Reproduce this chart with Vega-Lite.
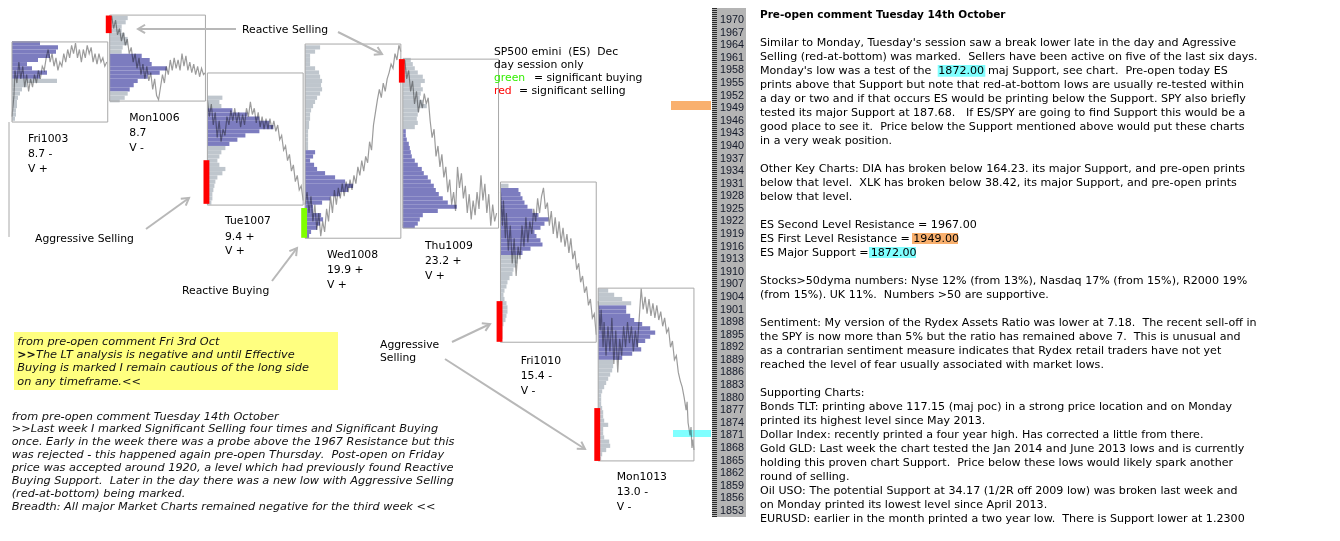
{
"$schema":"https://vega.github.io/schema/vega-lite/v6.json",
"width":1340,"height":541,
"autosize":{"type":"fit","contains":"padding"},
"padding":0,
"background":"white",
"config":{"view":{"stroke":null}},
"resolve":{"scale":{"color":"independent"}},
"datasets":{
"days":[{"d":0,"hi":1964.8,"lo":1945.7},{"d":1,"hi":1971.2,"lo":1950.7},{"d":2,"hi":1957.4,"lo":1925.9},{"d":3,"hi":1964.3,"lo":1918.0},{"d":4,"hi":1960.7,"lo":1920.4},{"d":5,"hi":1931.4,"lo":1893.2},{"d":6,"hi":1906.1,"lo":1864.9}],
"marks":[{"d":1,"hi":1971.1,"lo":1966.9,"k":"s"},{"d":2,"hi":1936.6,"lo":1926.2,"k":"s"},{"d":3,"hi":1925.2,"lo":1918.1,"k":"b"},{"d":4,"hi":1960.7,"lo":1955.1,"k":"s"},{"d":5,"hi":1903.0,"lo":1893.3,"k":"s"},{"d":6,"hi":1877.5,"lo":1864.9,"k":"s"}],
"rects":[{"x":0.0205,"x2":3.3367,"y":1881.81,"y2":1895.64,"k":"y"},{"x":9.4749,"x2":9.9621,"y":1956.51,"y2":1959.3,"k":"c"},{"x":9.2119,"x2":9.6827,"y":1916.62,"y2":1919.24,"k":"o"},{"x":8.7717,"x2":9.2528,"y":1913.28,"y2":1915.91,"k":"c"},{"x":7.1648,"x2":7.5128,"y":1851.53,"y2":1972.89,"k":"g"},{"x":6.7451,"x2":7.1546,"y":1948.57,"y2":1950.72,"k":"o"},{"x":6.7656,"x2":7.1546,"y":1870.6,"y2":1872.27,"k":"c"}],
"lines":[{"x":-0.0307,"y":1918.3,"y2":1945.7,"k":"edge"},{"x":7.1904,"y":1851.53,"y2":1972.89,"k":"comb"}],
"prof":[
{"d":0,"p":1964.5,"v":28,"z":"va"},{"d":0,"p":1963.5,"v":46,"z":"va"},{"d":0,"p":1962.5,"v":44,"z":"va"},{"d":0,"p":1961.5,"v":38,"z":"va"},{"d":0,"p":1960.5,"v":26,"z":"va"},{"d":0,"p":1959.5,"v":15,"z":"va"},{"d":0,"p":1958.5,"v":20,"z":"va"},{"d":0,"p":1957.5,"v":35,"z":"va"},{"d":0,"p":1956.5,"v":28,"z":"va"},{"d":0,"p":1955.5,"v":45,"z":"o"},{"d":0,"p":1954.5,"v":15,"z":"o"},{"d":0,"p":1953.5,"v":10,"z":"o"},{"d":0,"p":1952.5,"v":8,"z":"o"},{"d":0,"p":1951.5,"v":6,"z":"o"},{"d":0,"p":1950.5,"v":5,"z":"o"},{"d":0,"p":1949.5,"v":5,"z":"o"},{"d":0,"p":1948.5,"v":4,"z":"o"},{"d":0,"p":1947.5,"v":4,"z":"o"},{"d":0,"p":1946.5,"v":3,"z":"o"},
{"d":1,"p":1970.5,"v":18,"z":"o"},{"d":1,"p":1969.5,"v":16,"z":"o"},{"d":1,"p":1968.5,"v":12,"z":"o"},{"d":1,"p":1967.5,"v":12,"z":"o"},{"d":1,"p":1966.5,"v":15,"z":"o"},{"d":1,"p":1965.5,"v":18,"z":"o"},{"d":1,"p":1964.5,"v":18,"z":"o"},{"d":1,"p":1963.5,"v":13,"z":"o"},{"d":1,"p":1962.5,"v":12,"z":"o"},{"d":1,"p":1961.5,"v":32,"z":"va"},{"d":1,"p":1960.5,"v":40,"z":"va"},{"d":1,"p":1959.5,"v":42,"z":"va"},{"d":1,"p":1958.5,"v":57,"z":"va"},{"d":1,"p":1957.5,"v":50,"z":"va"},{"d":1,"p":1956.5,"v":38,"z":"va"},{"d":1,"p":1955.5,"v":28,"z":"va"},{"d":1,"p":1954.5,"v":24,"z":"va"},{"d":1,"p":1953.5,"v":20,"z":"va"},{"d":1,"p":1952.5,"v":18,"z":"o"},{"d":1,"p":1951.5,"v":15,"z":"o"},{"d":1,"p":1950.9,"v":10,"z":"o"},
{"d":2,"p":1951.5,"v":15,"z":"o"},{"d":2,"p":1950.5,"v":12,"z":"o"},{"d":2,"p":1949.5,"v":14,"z":"o"},{"d":2,"p":1948.5,"v":25,"z":"va"},{"d":2,"p":1947.5,"v":40,"z":"va"},{"d":2,"p":1946.5,"v":52,"z":"va"},{"d":2,"p":1945.5,"v":62,"z":"va"},{"d":2,"p":1944.5,"v":66,"z":"va"},{"d":2,"p":1943.5,"v":52,"z":"va"},{"d":2,"p":1942.5,"v":38,"z":"va"},{"d":2,"p":1941.5,"v":30,"z":"va"},{"d":2,"p":1940.5,"v":22,"z":"va"},{"d":2,"p":1939.5,"v":18,"z":"o"},{"d":2,"p":1938.5,"v":14,"z":"o"},{"d":2,"p":1937.5,"v":12,"z":"o"},{"d":2,"p":1936.5,"v":10,"z":"o"},{"d":2,"p":1935.5,"v":12,"z":"o"},{"d":2,"p":1934.5,"v":18,"z":"o"},{"d":2,"p":1933.5,"v":15,"z":"o"},{"d":2,"p":1932.5,"v":10,"z":"o"},{"d":2,"p":1931.5,"v":8,"z":"o"},{"d":2,"p":1930.5,"v":7,"z":"o"},{"d":2,"p":1929.5,"v":6,"z":"o"},{"d":2,"p":1928.5,"v":5,"z":"o"},{"d":2,"p":1927.5,"v":5,"z":"o"},{"d":2,"p":1926.5,"v":4,"z":"o"},
{"d":3,"p":1963.5,"v":15,"z":"o"},{"d":3,"p":1962.5,"v":10,"z":"o"},{"d":3,"p":1961.5,"v":5,"z":"o"},{"d":3,"p":1960.5,"v":5,"z":"o"},{"d":3,"p":1959.5,"v":5,"z":"o"},{"d":3,"p":1958.5,"v":10,"z":"o"},{"d":3,"p":1957.5,"v":14,"z":"o"},{"d":3,"p":1956.5,"v":15,"z":"o"},{"d":3,"p":1955.5,"v":17,"z":"o"},{"d":3,"p":1954.5,"v":16,"z":"o"},{"d":3,"p":1953.5,"v":17,"z":"o"},{"d":3,"p":1952.5,"v":15,"z":"o"},{"d":3,"p":1951.5,"v":12,"z":"o"},{"d":3,"p":1950.5,"v":10,"z":"o"},{"d":3,"p":1949.5,"v":8,"z":"o"},{"d":3,"p":1948.5,"v":6,"z":"o"},{"d":3,"p":1947.5,"v":5,"z":"o"},{"d":3,"p":1946.5,"v":5,"z":"o"},{"d":3,"p":1945.5,"v":4,"z":"o"},{"d":3,"p":1944.5,"v":4,"z":"o"},{"d":3,"p":1943.5,"v":3,"z":"o"},{"d":3,"p":1942.5,"v":3,"z":"o"},{"d":3,"p":1941.5,"v":3,"z":"o"},{"d":3,"p":1940.5,"v":3,"z":"o"},{"d":3,"p":1939.5,"v":3,"z":"o"},{"d":3,"p":1938.5,"v":10,"z":"va"},{"d":3,"p":1937.5,"v":8,"z":"va"},{"d":3,"p":1936.5,"v":5,"z":"va"},{"d":3,"p":1935.5,"v":9,"z":"va"},{"d":3,"p":1934.5,"v":12,"z":"va"},{"d":3,"p":1933.5,"v":20,"z":"va"},{"d":3,"p":1932.5,"v":30,"z":"va"},{"d":3,"p":1931.5,"v":40,"z":"va"},{"d":3,"p":1930.5,"v":48,"z":"va"},{"d":3,"p":1929.5,"v":43,"z":"va"},{"d":3,"p":1928.5,"v":35,"z":"va"},{"d":3,"p":1927.5,"v":25,"z":"va"},{"d":3,"p":1926.5,"v":17,"z":"va"},{"d":3,"p":1925.5,"v":8,"z":"va"},{"d":3,"p":1924.5,"v":8,"z":"va"},{"d":3,"p":1923.5,"v":16,"z":"va"},{"d":3,"p":1922.5,"v":18,"z":"va"},{"d":3,"p":1921.5,"v":15,"z":"va"},{"d":3,"p":1920.5,"v":12,"z":"va"},{"d":3,"p":1919.5,"v":6,"z":"va"},{"d":3,"p":1918.5,"v":4,"z":"va"},
{"d":4,"p":1960.5,"v":8,"z":"o"},{"d":4,"p":1959.5,"v":10,"z":"o"},{"d":4,"p":1958.5,"v":12,"z":"o"},{"d":4,"p":1957.5,"v":15,"z":"o"},{"d":4,"p":1956.5,"v":20,"z":"o"},{"d":4,"p":1955.5,"v":22,"z":"o"},{"d":4,"p":1954.5,"v":18,"z":"o"},{"d":4,"p":1953.5,"v":20,"z":"o"},{"d":4,"p":1952.5,"v":18,"z":"o"},{"d":4,"p":1951.5,"v":17,"z":"o"},{"d":4,"p":1950.5,"v":20,"z":"o"},{"d":4,"p":1949.5,"v":24,"z":"o"},{"d":4,"p":1948.5,"v":16,"z":"o"},{"d":4,"p":1947.5,"v":15,"z":"o"},{"d":4,"p":1946.5,"v":14,"z":"o"},{"d":4,"p":1945.5,"v":15,"z":"o"},{"d":4,"p":1944.5,"v":12,"z":"o"},{"d":4,"p":1943.5,"v":3,"z":"va"},{"d":4,"p":1942.5,"v":3,"z":"va"},{"d":4,"p":1941.5,"v":4,"z":"va"},{"d":4,"p":1940.5,"v":6,"z":"va"},{"d":4,"p":1939.5,"v":7,"z":"va"},{"d":4,"p":1938.5,"v":8,"z":"va"},{"d":4,"p":1937.5,"v":9,"z":"va"},{"d":4,"p":1936.5,"v":12,"z":"va"},{"d":4,"p":1935.5,"v":15,"z":"va"},{"d":4,"p":1934.5,"v":19,"z":"va"},{"d":4,"p":1933.5,"v":21,"z":"va"},{"d":4,"p":1932.5,"v":25,"z":"va"},{"d":4,"p":1931.5,"v":28,"z":"va"},{"d":4,"p":1930.5,"v":31,"z":"va"},{"d":4,"p":1929.5,"v":33,"z":"va"},{"d":4,"p":1928.5,"v":36,"z":"va"},{"d":4,"p":1927.5,"v":40,"z":"va"},{"d":4,"p":1926.5,"v":45,"z":"va"},{"d":4,"p":1925.5,"v":54,"z":"va"},{"d":4,"p":1924.5,"v":35,"z":"va"},{"d":4,"p":1923.5,"v":20,"z":"va"},{"d":4,"p":1922.5,"v":17,"z":"va"},{"d":4,"p":1921.5,"v":15,"z":"va"},{"d":4,"p":1920.9,"v":12,"z":"va"},
{"d":5,"p":1930.5,"v":8,"z":"o"},{"d":5,"p":1929.5,"v":18,"z":"va"},{"d":5,"p":1928.5,"v":20,"z":"va"},{"d":5,"p":1927.5,"v":22,"z":"va"},{"d":5,"p":1926.5,"v":24,"z":"va"},{"d":5,"p":1925.5,"v":27,"z":"va"},{"d":5,"p":1924.5,"v":32,"z":"va"},{"d":5,"p":1923.5,"v":38,"z":"va"},{"d":5,"p":1922.5,"v":48,"z":"va"},{"d":5,"p":1921.5,"v":44,"z":"va"},{"d":5,"p":1920.5,"v":40,"z":"va"},{"d":5,"p":1919.5,"v":34,"z":"va"},{"d":5,"p":1918.5,"v":36,"z":"va"},{"d":5,"p":1917.5,"v":40,"z":"va"},{"d":5,"p":1916.5,"v":42,"z":"va"},{"d":5,"p":1915.5,"v":30,"z":"va"},{"d":5,"p":1914.5,"v":22,"z":"va"},{"d":5,"p":1913.5,"v":18,"z":"o"},{"d":5,"p":1912.5,"v":17,"z":"o"},{"d":5,"p":1911.5,"v":15,"z":"o"},{"d":5,"p":1910.5,"v":13,"z":"o"},{"d":5,"p":1909.5,"v":12,"z":"o"},{"d":5,"p":1908.5,"v":9,"z":"o"},{"d":5,"p":1907.5,"v":7,"z":"o"},{"d":5,"p":1906.5,"v":6,"z":"o"},{"d":5,"p":1905.5,"v":4,"z":"o"},{"d":5,"p":1904.5,"v":3,"z":"o"},{"d":5,"p":1903.5,"v":4,"z":"o"},{"d":5,"p":1902.5,"v":6,"z":"o"},{"d":5,"p":1901.5,"v":7,"z":"o"},{"d":5,"p":1900.5,"v":7,"z":"o"},{"d":5,"p":1899.5,"v":6,"z":"o"},{"d":5,"p":1898.5,"v":5,"z":"o"},{"d":5,"p":1897.5,"v":3,"z":"o"},{"d":5,"p":1896.5,"v":2,"z":"o"},{"d":5,"p":1895.5,"v":2,"z":"o"},{"d":5,"p":1894.5,"v":2,"z":"o"},
{"d":6,"p":1905.5,"v":10,"z":"o"},{"d":6,"p":1904.5,"v":16,"z":"o"},{"d":6,"p":1903.5,"v":24,"z":"o"},{"d":6,"p":1902.5,"v":33,"z":"o"},{"d":6,"p":1901.5,"v":28,"z":"va"},{"d":6,"p":1900.5,"v":28,"z":"va"},{"d":6,"p":1899.5,"v":32,"z":"va"},{"d":6,"p":1898.5,"v":36,"z":"va"},{"d":6,"p":1897.5,"v":44,"z":"va"},{"d":6,"p":1896.5,"v":52,"z":"va"},{"d":6,"p":1895.5,"v":57,"z":"va"},{"d":6,"p":1894.5,"v":52,"z":"va"},{"d":6,"p":1893.5,"v":47,"z":"va"},{"d":6,"p":1892.5,"v":40,"z":"va"},{"d":6,"p":1891.5,"v":43,"z":"va"},{"d":6,"p":1890.5,"v":34,"z":"va"},{"d":6,"p":1889.5,"v":24,"z":"va"},{"d":6,"p":1888.5,"v":15,"z":"o"},{"d":6,"p":1887.5,"v":15,"z":"o"},{"d":6,"p":1886.5,"v":14,"z":"o"},{"d":6,"p":1885.5,"v":12,"z":"o"},{"d":6,"p":1884.5,"v":10,"z":"o"},{"d":6,"p":1883.5,"v":8,"z":"o"},{"d":6,"p":1882.5,"v":6,"z":"o"},{"d":6,"p":1881.5,"v":4,"z":"o"},{"d":6,"p":1880.5,"v":3,"z":"o"},{"d":6,"p":1879.5,"v":3,"z":"o"},{"d":6,"p":1878.5,"v":3,"z":"o"},{"d":6,"p":1877.5,"v":4,"z":"o"},{"d":6,"p":1876.5,"v":5,"z":"o"},{"d":6,"p":1875.5,"v":5,"z":"o"},{"d":6,"p":1874.5,"v":6,"z":"o"},{"d":6,"p":1873.5,"v":10,"z":"o"},{"d":6,"p":1872.5,"v":5,"z":"o"},{"d":6,"p":1871.5,"v":5,"z":"o"},{"d":6,"p":1870.5,"v":6,"z":"o"},{"d":6,"p":1869.5,"v":11,"z":"o"},{"d":6,"p":1868.5,"v":12,"z":"o"},{"d":6,"p":1867.5,"v":8,"z":"o"},{"d":6,"p":1866.5,"v":4,"z":"o"},{"d":6,"p":1865.5,"v":3,"z":"o"}],
"trace":[
{"d":0,"t":0,"p":1947},{"d":0,"t":0.02,"p":1952},{"d":0,"t":0.03,"p":1958},{"d":0,"t":0.05,"p":1955},{"d":0,"t":0.07,"p":1960},{"d":0,"t":0.09,"p":1956},{"d":0,"t":0.11,"p":1959},{"d":0,"t":0.13,"p":1954},{"d":0,"t":0.15,"p":1957},{"d":0,"t":0.17,"p":1953},{"d":0,"t":0.19,"p":1956},{"d":0,"t":0.21,"p":1954},{"d":0,"t":0.23,"p":1957},{"d":0,"t":0.25,"p":1955},{"d":0,"t":0.27,"p":1958},{"d":0,"t":0.29,"p":1956},{"d":0,"t":0.31,"p":1959},{"d":0,"t":0.33,"p":1958},{"d":0,"t":0.35,"p":1961},{"d":0,"t":0.37,"p":1963},{"d":0,"t":0.39,"p":1960},{"d":0,"t":0.41,"p":1962},{"d":0,"t":0.43,"p":1959},{"d":0,"t":0.45,"p":1961},{"d":0,"t":0.47,"p":1958},{"d":0,"t":0.49,"p":1960},{"d":0,"t":0.51,"p":1959},{"d":0,"t":0.53,"p":1962},{"d":0,"t":0.55,"p":1960},{"d":0,"t":0.57,"p":1963},{"d":0,"t":0.59,"p":1961},{"d":0,"t":0.61,"p":1964},{"d":0,"t":0.63,"p":1962},{"d":0,"t":0.65,"p":1964.5},{"d":0,"t":0.67,"p":1961},{"d":0,"t":0.69,"p":1963},{"d":0,"t":0.71,"p":1960},{"d":0,"t":0.73,"p":1963},{"d":0,"t":0.75,"p":1961},{"d":0,"t":0.77,"p":1964},{"d":0,"t":0.79,"p":1962},{"d":0,"t":0.81,"p":1963.5},{"d":0,"t":0.83,"p":1960},{"d":0,"t":0.85,"p":1962},{"d":0,"t":0.87,"p":1959.5},{"d":0,"t":0.89,"p":1962},{"d":0,"t":0.91,"p":1960},{"d":0,"t":0.93,"p":1961},{"d":0,"t":0.95,"p":1959},{"d":0,"t":0.97,"p":1960},
{"d":1,"t":0,"p":1969},{"d":1,"t":0.02,"p":1971},{"d":1,"t":0.04,"p":1968},{"d":1,"t":0.06,"p":1970},{"d":1,"t":0.08,"p":1966.5},{"d":1,"t":0.1,"p":1968},{"d":1,"t":0.12,"p":1965},{"d":1,"t":0.14,"p":1967},{"d":1,"t":0.16,"p":1964},{"d":1,"t":0.18,"p":1965.5},{"d":1,"t":0.2,"p":1962},{"d":1,"t":0.22,"p":1963.5},{"d":1,"t":0.24,"p":1960},{"d":1,"t":0.26,"p":1962},{"d":1,"t":0.28,"p":1958.5},{"d":1,"t":0.3,"p":1961},{"d":1,"t":0.32,"p":1957},{"d":1,"t":0.34,"p":1959.5},{"d":1,"t":0.36,"p":1956},{"d":1,"t":0.38,"p":1959},{"d":1,"t":0.4,"p":1955.5},{"d":1,"t":0.42,"p":1957.5},{"d":1,"t":0.44,"p":1953.5},{"d":1,"t":0.46,"p":1956},{"d":1,"t":0.48,"p":1952},{"d":1,"t":0.5,"p":1951},{"d":1,"t":0.52,"p":1954},{"d":1,"t":0.54,"p":1957},{"d":1,"t":0.56,"p":1955},{"d":1,"t":0.58,"p":1959},{"d":1,"t":0.6,"p":1957},{"d":1,"t":0.62,"p":1960.5},{"d":1,"t":0.64,"p":1958},{"d":1,"t":0.66,"p":1961},{"d":1,"t":0.68,"p":1958.5},{"d":1,"t":0.7,"p":1960.5},{"d":1,"t":0.72,"p":1958},{"d":1,"t":0.74,"p":1962},{"d":1,"t":0.76,"p":1959},{"d":1,"t":0.78,"p":1961.5},{"d":1,"t":0.8,"p":1958},{"d":1,"t":0.82,"p":1960},{"d":1,"t":0.84,"p":1957.5},{"d":1,"t":0.86,"p":1959.5},{"d":1,"t":0.88,"p":1957},{"d":1,"t":0.9,"p":1959},{"d":1,"t":0.92,"p":1956.5},{"d":1,"t":0.94,"p":1958.5},{"d":1,"t":0.96,"p":1957},{"d":1,"t":0.98,"p":1957.5},
{"d":2,"t":0,"p":1951},{"d":2,"t":0.02,"p":1947},{"d":2,"t":0.04,"p":1950},{"d":2,"t":0.06,"p":1945},{"d":2,"t":0.08,"p":1948},{"d":2,"t":0.1,"p":1942},{"d":2,"t":0.12,"p":1946},{"d":2,"t":0.14,"p":1941},{"d":2,"t":0.16,"p":1944},{"d":2,"t":0.18,"p":1942.5},{"d":2,"t":0.2,"p":1947},{"d":2,"t":0.22,"p":1945},{"d":2,"t":0.24,"p":1948.5},{"d":2,"t":0.26,"p":1946},{"d":2,"t":0.28,"p":1949},{"d":2,"t":0.3,"p":1945.5},{"d":2,"t":0.32,"p":1948},{"d":2,"t":0.34,"p":1944.5},{"d":2,"t":0.36,"p":1947.5},{"d":2,"t":0.38,"p":1945},{"d":2,"t":0.4,"p":1949},{"d":2,"t":0.42,"p":1947},{"d":2,"t":0.44,"p":1950.5},{"d":2,"t":0.46,"p":1947.5},{"d":2,"t":0.48,"p":1949},{"d":2,"t":0.5,"p":1945.5},{"d":2,"t":0.52,"p":1948},{"d":2,"t":0.54,"p":1944.5},{"d":2,"t":0.56,"p":1947},{"d":2,"t":0.58,"p":1944},{"d":2,"t":0.6,"p":1946.5},{"d":2,"t":0.62,"p":1944},{"d":2,"t":0.64,"p":1946.5},{"d":2,"t":0.66,"p":1944},{"d":2,"t":0.68,"p":1946},{"d":2,"t":0.7,"p":1943.5},{"d":2,"t":0.72,"p":1945},{"d":2,"t":0.74,"p":1941.5},{"d":2,"t":0.76,"p":1942.5},{"d":2,"t":0.78,"p":1939},{"d":2,"t":0.8,"p":1940},{"d":2,"t":0.82,"p":1936.5},{"d":2,"t":0.84,"p":1938},{"d":2,"t":0.86,"p":1934},{"d":2,"t":0.88,"p":1935.5},{"d":2,"t":0.9,"p":1931.5},{"d":2,"t":0.92,"p":1933},{"d":2,"t":0.94,"p":1929.5},{"d":2,"t":0.96,"p":1930.5},{"d":2,"t":0.98,"p":1927},
{"d":3,"t":0,"p":1926},{"d":3,"t":0.02,"p":1929},{"d":3,"t":0.04,"p":1924},{"d":3,"t":0.06,"p":1928},{"d":3,"t":0.08,"p":1922},{"d":3,"t":0.1,"p":1926},{"d":3,"t":0.12,"p":1920},{"d":3,"t":0.14,"p":1924},{"d":3,"t":0.16,"p":1918.5},{"d":3,"t":0.18,"p":1922},{"d":3,"t":0.2,"p":1919.5},{"d":3,"t":0.22,"p":1925},{"d":3,"t":0.24,"p":1922},{"d":3,"t":0.26,"p":1928},{"d":3,"t":0.28,"p":1924},{"d":3,"t":0.3,"p":1929.5},{"d":3,"t":0.32,"p":1926},{"d":3,"t":0.34,"p":1930},{"d":3,"t":0.36,"p":1927.5},{"d":3,"t":0.38,"p":1931},{"d":3,"t":0.4,"p":1928},{"d":3,"t":0.42,"p":1931.5},{"d":3,"t":0.44,"p":1929},{"d":3,"t":0.46,"p":1932},{"d":3,"t":0.48,"p":1929.5},{"d":3,"t":0.5,"p":1933},{"d":3,"t":0.52,"p":1931},{"d":3,"t":0.54,"p":1935},{"d":3,"t":0.56,"p":1933},{"d":3,"t":0.58,"p":1936.5},{"d":3,"t":0.6,"p":1934},{"d":3,"t":0.62,"p":1937.5},{"d":3,"t":0.64,"p":1936},{"d":3,"t":0.66,"p":1941},{"d":3,"t":0.68,"p":1939},{"d":3,"t":0.7,"p":1945},{"d":3,"t":0.72,"p":1948},{"d":3,"t":0.74,"p":1951},{"d":3,"t":0.76,"p":1953.5},{"d":3,"t":0.78,"p":1951.5},{"d":3,"t":0.8,"p":1955},{"d":3,"t":0.82,"p":1953},{"d":3,"t":0.84,"p":1956},{"d":3,"t":0.86,"p":1957.5},{"d":3,"t":0.88,"p":1959.5},{"d":3,"t":0.9,"p":1958.5},{"d":3,"t":0.92,"p":1962},{"d":3,"t":0.94,"p":1960.5},{"d":3,"t":0.96,"p":1964},{"d":3,"t":0.98,"p":1962.5},
{"d":4,"t":0,"p":1959},{"d":4,"t":0.02,"p":1960.5},{"d":4,"t":0.04,"p":1956},{"d":4,"t":0.06,"p":1958},{"d":4,"t":0.08,"p":1953},{"d":4,"t":0.1,"p":1955.5},{"d":4,"t":0.12,"p":1950},{"d":4,"t":0.14,"p":1953},{"d":4,"t":0.16,"p":1948},{"d":4,"t":0.18,"p":1951},{"d":4,"t":0.2,"p":1949},{"d":4,"t":0.22,"p":1952.5},{"d":4,"t":0.24,"p":1950},{"d":4,"t":0.26,"p":1951.5},{"d":4,"t":0.28,"p":1946},{"d":4,"t":0.3,"p":1942},{"d":4,"t":0.32,"p":1944},{"d":4,"t":0.34,"p":1937.5},{"d":4,"t":0.36,"p":1940},{"d":4,"t":0.38,"p":1935},{"d":4,"t":0.4,"p":1938},{"d":4,"t":0.42,"p":1932.5},{"d":4,"t":0.44,"p":1935},{"d":4,"t":0.46,"p":1929},{"d":4,"t":0.48,"p":1932},{"d":4,"t":0.5,"p":1926},{"d":4,"t":0.52,"p":1929},{"d":4,"t":0.54,"p":1924.5},{"d":4,"t":0.56,"p":1935},{"d":4,"t":0.58,"p":1930},{"d":4,"t":0.6,"p":1933.5},{"d":4,"t":0.62,"p":1927.5},{"d":4,"t":0.64,"p":1930.5},{"d":4,"t":0.66,"p":1924},{"d":4,"t":0.68,"p":1928.5},{"d":4,"t":0.7,"p":1922.5},{"d":4,"t":0.72,"p":1927},{"d":4,"t":0.74,"p":1923.5},{"d":4,"t":0.76,"p":1929},{"d":4,"t":0.78,"p":1925},{"d":4,"t":0.8,"p":1933},{"d":4,"t":0.82,"p":1927},{"d":4,"t":0.84,"p":1931},{"d":4,"t":0.86,"p":1924},{"d":4,"t":0.88,"p":1928.5},{"d":4,"t":0.9,"p":1921},{"d":4,"t":0.92,"p":1926},{"d":4,"t":0.94,"p":1922},{"d":4,"t":0.96,"p":1924},
{"d":5,"t":0,"p":1929},{"d":5,"t":0.02,"p":1921},{"d":5,"t":0.03,"p":1927},{"d":5,"t":0.05,"p":1918},{"d":5,"t":0.06,"p":1924},{"d":5,"t":0.08,"p":1915},{"d":5,"t":0.1,"p":1921},{"d":5,"t":0.12,"p":1912},{"d":5,"t":0.14,"p":1918},{"d":5,"t":0.16,"p":1909},{"d":5,"t":0.18,"p":1916},{"d":5,"t":0.2,"p":1913},{"d":5,"t":0.22,"p":1921},{"d":5,"t":0.24,"p":1916},{"d":5,"t":0.26,"p":1923},{"d":5,"t":0.28,"p":1917},{"d":5,"t":0.3,"p":1922},{"d":5,"t":0.32,"p":1919},{"d":5,"t":0.34,"p":1925},{"d":5,"t":0.36,"p":1922},{"d":5,"t":0.38,"p":1927.5},{"d":5,"t":0.4,"p":1924},{"d":5,"t":0.42,"p":1928},{"d":5,"t":0.44,"p":1930},{"d":5,"t":0.46,"p":1925},{"d":5,"t":0.48,"p":1926.5},{"d":5,"t":0.5,"p":1921},{"d":5,"t":0.52,"p":1924.5},{"d":5,"t":0.54,"p":1919},{"d":5,"t":0.56,"p":1923},{"d":5,"t":0.58,"p":1918},{"d":5,"t":0.6,"p":1922},{"d":5,"t":0.62,"p":1917},{"d":5,"t":0.64,"p":1920.5},{"d":5,"t":0.66,"p":1916},{"d":5,"t":0.68,"p":1919},{"d":5,"t":0.7,"p":1914.5},{"d":5,"t":0.72,"p":1918},{"d":5,"t":0.74,"p":1913},{"d":5,"t":0.76,"p":1915},{"d":5,"t":0.78,"p":1910.5},{"d":5,"t":0.8,"p":1912},{"d":5,"t":0.82,"p":1907.5},{"d":5,"t":0.84,"p":1909},{"d":5,"t":0.86,"p":1905},{"d":5,"t":0.88,"p":1906.5},{"d":5,"t":0.9,"p":1902},{"d":5,"t":0.92,"p":1903.5},{"d":5,"t":0.94,"p":1899},{"d":5,"t":0.96,"p":1900},{"d":5,"t":0.98,"p":1895},
{"d":6,"t":0,"p":1903},{"d":6,"t":0.02,"p":1896},{"d":6,"t":0.03,"p":1901},{"d":6,"t":0.05,"p":1892},{"d":6,"t":0.06,"p":1898},{"d":6,"t":0.08,"p":1890},{"d":6,"t":0.1,"p":1897},{"d":6,"t":0.12,"p":1891},{"d":6,"t":0.14,"p":1899},{"d":6,"t":0.16,"p":1888},{"d":6,"t":0.18,"p":1896},{"d":6,"t":0.2,"p":1886},{"d":6,"t":0.22,"p":1894},{"d":6,"t":0.24,"p":1890},{"d":6,"t":0.26,"p":1897},{"d":6,"t":0.28,"p":1892},{"d":6,"t":0.3,"p":1898},{"d":6,"t":0.32,"p":1893},{"d":6,"t":0.34,"p":1897},{"d":6,"t":0.36,"p":1891},{"d":6,"t":0.38,"p":1896},{"d":6,"t":0.4,"p":1892},{"d":6,"t":0.42,"p":1899},{"d":6,"t":0.44,"p":1906},{"d":6,"t":0.46,"p":1901},{"d":6,"t":0.48,"p":1904},{"d":6,"t":0.5,"p":1900},{"d":6,"t":0.52,"p":1903.5},{"d":6,"t":0.54,"p":1899.5},{"d":6,"t":0.56,"p":1902.5},{"d":6,"t":0.58,"p":1899},{"d":6,"t":0.6,"p":1902},{"d":6,"t":0.62,"p":1898.5},{"d":6,"t":0.64,"p":1900.5},{"d":6,"t":0.66,"p":1897},{"d":6,"t":0.68,"p":1899},{"d":6,"t":0.7,"p":1895.5},{"d":6,"t":0.72,"p":1896.5},{"d":6,"t":0.74,"p":1892},{"d":6,"t":0.76,"p":1893.5},{"d":6,"t":0.78,"p":1889},{"d":6,"t":0.8,"p":1890},{"d":6,"t":0.82,"p":1886},{"d":6,"t":0.84,"p":1884},{"d":6,"t":0.86,"p":1882.5},{"d":6,"t":0.88,"p":1880},{"d":6,"t":0.9,"p":1877},{"d":6,"t":0.91,"p":1879},{"d":6,"t":0.92,"p":1874},{"d":6,"t":0.94,"p":1871},{"d":6,"t":0.95,"p":1873},{"d":6,"t":0.96,"p":1868},{"d":6,"t":0.97,"p":1870},{"d":6,"t":0.98,"p":1867.5}],
"arr":[{"x":2.2927,"y":1967.89,"x2":1.2897,"y2":1967.89,"a":180},{"x":3.3367,"y":1967.17,"x2":3.7871,"y2":1961.92,"a":26.6},{"x":1.3715,"y":1920.2,"x2":1.8117,"y2":1927.59,"a":-35.8},{"x":2.6612,"y":1907.8,"x2":2.9171,"y2":1915.67,"a":-52.9},{"x":4.5036,"y":1893.26,"x2":4.8925,"y2":1897.55,"a":-25.3},{"x":4.4319,"y":1889.2,"x2":5.8649,"y2":1867.74,"a":32.7}],
"ax":[{"p":1970},{"p":1967},{"p":1964},{"p":1961},{"p":1958},{"p":1955},{"p":1952},{"p":1949},{"p":1946},{"p":1943},{"p":1940},{"p":1937},{"p":1934},{"p":1931},{"p":1928},{"p":1925},{"p":1922},{"p":1919},{"p":1916},{"p":1913},{"p":1910},{"p":1907},{"p":1904},{"p":1901},{"p":1898},{"p":1895},{"p":1892},{"p":1889},{"p":1886},{"p":1883},{"p":1880},{"p":1877},{"p":1874},{"p":1871},{"p":1868},{"p":1865},{"p":1862},{"p":1859},{"p":1856},{"p":1853}],
"txt":[
{"x":7.6561,"y":1971.22,"s":"Pre-open comment Tuesday 14th October","k":"t"},
{"x":7.6561,"y":1964.55,"s":"Similar to Monday, Tuesday's session saw a break lower late in the day and Agressive","k":"p"},
{"x":7.6561,"y":1961.21,"s":"Selling (red-at-bottom) was marked.\u00a0 Sellers have been active on five of the last six days.","k":"p"},
{"x":7.6561,"y":1957.87,"s":"Monday's low was a test of the","k":"p"},
{"x":9.481,"y":1957.87,"s":"1872.00","k":"p"},
{"x":9.9898,"y":1957.87,"s":"maj Support, see chart.\u00a0 Pre-open today ES","k":"p"},
{"x":7.6561,"y":1954.53,"s":"prints above that Support but note that red-at-bottom lows are usually re-tested within","k":"p"},
{"x":7.6561,"y":1951.2,"s":"a day or two and if that occurs ES would be printing below the Support. SPY also briefly","k":"p"},
{"x":7.6561,"y":1947.86,"s":"tested its major Support at 187.68.\u00a0\u00a0 If ES/SPY are going to find Support this would be a","k":"p"},
{"x":7.6561,"y":1944.52,"s":"good place to see it.\u00a0 Price below the Support mentioned above would put these charts","k":"p"},
{"x":7.6561,"y":1941.18,"s":"in a very weak position.","k":"p"},
{"x":7.6561,"y":1934.5,"s":"Other Key Charts: DIA has broken below 164.23. its major Support, and pre-open prints","k":"p"},
{"x":7.6561,"y":1931.17,"s":"below that level.\u00a0 XLK has broken below 38.42, its major Support, and pre-open prints","k":"p"},
{"x":7.6561,"y":1927.83,"s":"below that level.","k":"p"},
{"x":7.6561,"y":1921.15,"s":"ES Second Level Resistance = 1967.00","k":"p"},
{"x":7.6561,"y":1917.81,"s":"ES First Level Resistance =","k":"p"},
{"x":9.2252,"y":1917.81,"s":"1949.00","k":"p"},
{"x":7.6561,"y":1914.48,"s":"ES Major Support =","k":"p"},
{"x":8.7892,"y":1914.48,"s":"1872.00","k":"p"},
{"x":7.6561,"y":1907.8,"s":"Stocks>50dyma numbers: Nyse 12% (from 13%), Nasdaq 17% (from 15%), R2000 19%","k":"p"},
{"x":7.6561,"y":1904.46,"s":"(from 15%). UK 11%.\u00a0 Numbers >50 are supportive.","k":"p"},
{"x":7.6561,"y":1897.79,"s":"Sentiment: My version of the Rydex Assets Ratio was lower at 7.18.\u00a0 The recent sell-off in","k":"p"},
{"x":7.6561,"y":1894.45,"s":"the SPY is now more than 5% but the ratio has remained above 7.\u00a0 This is unusual and","k":"p"},
{"x":7.6561,"y":1891.11,"s":"as a contrarian sentiment measure indicates that Rydex retail traders have not yet","k":"p"},
{"x":7.6561,"y":1887.77,"s":"reached the level of fear usually associated with market lows.","k":"p"},
{"x":7.6561,"y":1881.1,"s":"Supporting Charts:","k":"p"},
{"x":7.6561,"y":1877.76,"s":"Bonds TLT: printing above 117.15 (maj poc) in a strong price location and on Monday","k":"p"},
{"x":7.6561,"y":1874.42,"s":"printed its highest level since May 2013.","k":"p"},
{"x":7.6561,"y":1871.08,"s":"Dollar Index: recently printed a four year high. Has corrected a little from there.","k":"p"},
{"x":7.6561,"y":1867.74,"s":"Gold GLD: Last week the chart tested the Jan 2014 and June 2013 lows and is currently","k":"p"},
{"x":7.6561,"y":1864.4,"s":"holding this proven chart Support.\u00a0 Price below these lows would likely spark another","k":"p"},
{"x":7.6561,"y":1861.07,"s":"round of selling.","k":"p"},
{"x":7.6561,"y":1857.73,"s":"Oil USO: The potential Support at 34.17 (1/2R off 2009 low) was broken last week and","k":"p"},
{"x":7.6561,"y":1854.39,"s":"on Monday printed its lowest level since April 2013.","k":"p"},
{"x":7.6561,"y":1851.05,"s":"EURUSD: earlier in the month printed a two year low.\u00a0 There is Support lower at 1.2300","k":"p"},
{"x":4.9335,"y":1962.33,"s":"SP500 emini\u00a0 (ES)\u00a0 Dec","k":"l"},
{"x":4.9335,"y":1959.3,"s":"day session only","k":"l"},
{"x":4.9335,"y":1956.13,"s":"green","k":"gr"},
{"x":5.3429,"y":1956.13,"s":"= significant buying","k":"l"},
{"x":4.9335,"y":1953.17,"s":"red","k":"rd"},
{"x":5.1894,"y":1953.17,"s":"= significant selling","k":"l"},
{"x":2.3541,"y":1967.65,"s":"Reactive Selling","k":"l"},
{"x":0.2354,"y":1917.81,"s":"Aggressive Selling","k":"l"},
{"x":1.74,"y":1905.42,"s":"Reactive Buying","k":"l"},
{"x":3.7666,"y":1892.54,"s":"Aggressive","k":"l"},
{"x":3.7666,"y":1889.51,"s":"Selling","k":"l"},
{"x":0.1638,"y":1941.66,"s":"Fri1003","k":"l"},{"x":0.1638,"y":1938.08,"s":"8.7 -","k":"l"},{"x":0.1638,"y":1934.5,"s":"V +","k":"l"},
{"x":1.2006,"y":1946.59,"s":"Mon1006","k":"l"},{"x":1.2006,"y":1943.02,"s":"8.7","k":"l"},{"x":1.2006,"y":1939.58,"s":"V -","k":"l"},
{"x":2.1801,"y":1922.11,"s":"Tue1007","k":"l"},{"x":2.1801,"y":1918.36,"s":"9.4 +","k":"l"},{"x":2.1801,"y":1914.95,"s":"V +","k":"l"},
{"x":3.2242,"y":1914.0,"s":"Wed1008","k":"l"},{"x":3.2242,"y":1910.42,"s":"19.9 +","k":"l"},{"x":3.2242,"y":1906.85,"s":"V +","k":"l"},
{"x":4.2272,"y":1916.14,"s":"Thu1009","k":"l"},{"x":4.2272,"y":1912.57,"s":"23.2 +","k":"l"},{"x":4.2272,"y":1908.99,"s":"V +","k":"l"},
{"x":5.2068,"y":1888.72,"s":"Fri1010","k":"l"},{"x":5.2068,"y":1885.15,"s":"15.4 -","k":"l"},{"x":5.2068,"y":1881.64,"s":"V -","k":"l"},
{"x":6.1894,"y":1861.14,"s":"Mon1013","k":"l"},{"x":6.1894,"y":1857.49,"s":"13.0 -","k":"l"},{"x":6.1894,"y":1853.84,"s":"V -","k":"l"},
{"x":0.0542,"y":1893.26,"s":"from pre-open comment Fri 3rd Oct","k":"i"},
{"x":0.0542,"y":1890.16,"s":">>","k":"ib"},
{"x":0.2456,"y":1890.16,"s":"The LT analysis is negative and until Effective","k":"i"},
{"x":0.0542,"y":1886.99,"s":"Buying is marked I remain cautious of the long side","k":"i"},
{"x":0.0542,"y":1883.79,"s":"on any timeframe.<<","k":"i"},
{"x":-0.0031,"y":1875.44,"s":"from pre-open comment Tuesday 14th October","k":"i"},
{"x":-0.0031,"y":1872.44,"s":">>Last week I marked Significant Selling four times and Significant Buying","k":"i"},
{"x":-0.0031,"y":1869.34,"s":"once. Early in the week there was a probe above the 1967 Resistance but this","k":"i"},
{"x":-0.0031,"y":1866.24,"s":"was rejected - this happened again pre-open Thursday.\u00a0 Post-open on Friday","k":"i"},
{"x":-0.0031,"y":1863.14,"s":"price was accepted around 1920, a level which had previously found Reactive","k":"i"},
{"x":-0.0031,"y":1860.11,"s":"Buying Support.\u00a0 Later in the day there was a new low with Aggressive Selling","k":"i"},
{"x":-0.0031,"y":1857.01,"s":"(red-at-bottom) being marked.","k":"i"},
{"x":-0.0031,"y":1853.98,"s":"Breadth: All major Market Charts remained negative for the third week <<","k":"i"}]
},
"encoding":{
"x":{"field":"x","type":"quantitative","scale":{"domain":[-0.12282,13.59263],"nice":false,"zero":false},"axis":null},
"y":{"field":"y","type":"quantitative","scale":{"domain":[1845.806,1974.8],"nice":false,"zero":false},"axis":null}
},
"layer":[
{"data":{"name":"rects"},"mark":{"type":"rect"},"encoding":{"x2":{"field":"x2"},"y2":{"field":"y2"},"color":{"field":"k","type":"nominal","scale":{"domain":["y","c","o","g"],"range":["#ffff80","#80ffff","#f9b06e","#b4b4b4"]},"legend":null}}},
{"data":{"name":"prof"},"transform":[{"calculate":"datum.d","as":"x"},{"calculate":"datum.d + datum.v/97.7","as":"x2"},{"calculate":"datum.p - 0.5","as":"y"},{"calculate":"datum.p + 0.5","as":"y2"}],"mark":{"type":"rect"},"encoding":{"x2":{"field":"x2"},"y2":{"field":"y2"},"color":{"field":"z","type":"nominal","scale":{"domain":["va","o"],"range":["#7c7cbf","#bfc6cd"]},"legend":null}}},
{"data":{"name":"trace"},"transform":[{"calculate":"datum.d + datum.t","as":"x"},{"calculate":"datum.p","as":"y"}],"mark":{"type":"line","color":"#9c9c9c","strokeWidth":1.2,"blend":"multiply"},"encoding":{"detail":{"field":"d","type":"nominal"}}},
{"data":{"name":"days"},"transform":[{"calculate":"datum.d","as":"x"},{"calculate":"datum.d + 0.98","as":"x2"},{"calculate":"datum.lo","as":"y"},{"calculate":"datum.hi","as":"y2"}],"mark":{"type":"rect","filled":false,"color":"#a8a8a8","strokeWidth":1},"encoding":{"x2":{"field":"x2"},"y2":{"field":"y2"}}},
{"data":{"name":"lines"},"transform":[{"filter":"datum.k == 'edge'"}],"mark":{"type":"rule","color":"#a8a8a8","strokeWidth":1},"encoding":{"y2":{"field":"y2"}}},
{"data":{"name":"marks"},"transform":[{"calculate":"datum.d - 0.04","as":"x"},{"calculate":"datum.d + 0.02","as":"x2"},{"calculate":"datum.lo","as":"y"},{"calculate":"datum.hi","as":"y2"}],"mark":{"type":"rect"},"encoding":{"x2":{"field":"x2"},"y2":{"field":"y2"},"color":{"field":"k","type":"nominal","scale":{"domain":["s","b"],"range":["#ff0000","#80ff00"]},"legend":null}}},
{"data":{"name":"lines"},"transform":[{"filter":"datum.k == 'comb'"}],"mark":{"type":"rule","color":"#2a2a2a","strokeWidth":5,"strokeDash":[1,1]},"encoding":{"y2":{"field":"y2"}}},
{"data":{"name":"arr"},"mark":{"type":"rule","color":"#b8b8b8","strokeWidth":2},"encoding":{"x2":{"field":"x2"},"y2":{"field":"y2"}}},
{"data":{"name":"arr"},"transform":[{"calculate":"datum.x2","as":"x"},{"calculate":"datum.y2","as":"y"}],"mark":{"type":"point","shape":"M-1,-0.6L0,0L-1,0.6","filled":false,"color":"#b8b8b8","strokeWidth":2,"size":200,"opacity":1},"encoding":{"angle":{"field":"a","type":"quantitative","scale":null}}},
{"data":{"name":"txt"},"transform":[{"filter":"datum.k == 'p'"}],"mark":{"type":"text","align":"left","baseline":"middle","font":"DejaVu Sans","fontSize":11.1,"color":"#000000"},"encoding":{"text":{"field":"s","type":"nominal"}}},
{"data":{"name":"txt"},"transform":[{"filter":"datum.k == 't'"}],"mark":{"type":"text","align":"left","baseline":"middle","font":"DejaVu Sans","fontSize":10.5,"fontWeight":"bold","color":"#000000"},"encoding":{"text":{"field":"s","type":"nominal"}}},
{"data":{"name":"txt"},"transform":[{"filter":"datum.k == 'l'"}],"mark":{"type":"text","align":"left","baseline":"middle","font":"DejaVu Sans","fontSize":10.8,"color":"#000000"},"encoding":{"text":{"field":"s","type":"nominal"}}},
{"data":{"name":"txt"},"transform":[{"filter":"datum.k == 'gr'"}],"mark":{"type":"text","align":"left","baseline":"middle","font":"DejaVu Sans","fontSize":10.8,"color":"#33ee00"},"encoding":{"text":{"field":"s","type":"nominal"}}},
{"data":{"name":"txt"},"transform":[{"filter":"datum.k == 'rd'"}],"mark":{"type":"text","align":"left","baseline":"middle","font":"DejaVu Sans","fontSize":10.8,"color":"#ff0000"},"encoding":{"text":{"field":"s","type":"nominal"}}},
{"data":{"name":"txt"},"transform":[{"filter":"datum.k == 'i'"}],"mark":{"type":"text","align":"left","baseline":"middle","font":"DejaVu Sans","fontSize":11.3,"fontStyle":"italic","color":"#111111"},"encoding":{"text":{"field":"s","type":"nominal"}}},
{"data":{"name":"txt"},"transform":[{"filter":"datum.k == 'ib'"}],"mark":{"type":"text","align":"left","baseline":"middle","font":"DejaVu Sans","fontSize":11,"fontWeight":"bold","color":"#111111"},"encoding":{"text":{"field":"s","type":"nominal"}}},
{"data":{"name":"ax"},"transform":[{"calculate":"datum.p","as":"y"},{"calculate":"7.2467","as":"x"}],"mark":{"type":"text","align":"left","baseline":"middle","font":"Liberation Sans","fontSize":10.8,"color":"#141a2a"},"encoding":{"text":{"field":"p","type":"nominal"}}}
]
}
